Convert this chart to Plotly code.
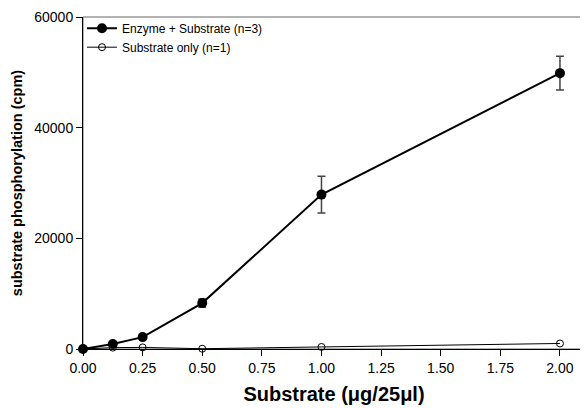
import plotly.graph_objects as go

x_vals = [0, 0.125, 0.25, 0.5, 1.0, 2.0]
enzyme_vals = [0, 900, 2150, 8300, 27900, 49850]
enzyme_err = [0, 150, 250, 750, 3300, 3050]
substrate_vals = [0, 250, 290, 50, 370, 1000]
x_ticks = [0, 0.25, 0.5, 0.75, 1.0, 1.25, 1.5, 1.75, 2.0]
x_tick_labels = ["0.00", "0.25", "0.50", "0.75", "1.00", "1.25", "1.50", "1.75", "2.00"]
y_ticks = [0, 20000, 40000, 60000]

font = "Liberation Sans, Arial, sans-serif"

fig = go.Figure()
fig.add_trace(go.Scatter(
    x=x_vals, y=substrate_vals, mode="lines+markers",
    name="Substrate only (n=1)",
    line=dict(color="black", width=1),
    marker=dict(symbol="circle-open", size=7, color="black", line=dict(width=1)),
    cliponaxis=False,
))
fig.add_trace(go.Scatter(
    x=x_vals, y=enzyme_vals, mode="lines+markers",
    name="Enzyme + Substrate (n=3)",
    line=dict(color="black", width=2),
    marker=dict(symbol="circle", size=10, color="black"),
    error_y=dict(type="data", array=enzyme_err, visible=True, color="#444", thickness=1.5, width=4),
    cliponaxis=False,
))

fig.add_shape(type="rect", xref="paper", yref="paper", x0=0, x1=1, y0=0, y1=1,
              line=dict(color="#666", width=1), layer="below")

fig.update_layout(
    width=580, height=400,
    margin=dict(l=75, r=3, t=9, b=59, autoexpand=False),
    plot_bgcolor="white", paper_bgcolor="white",
    font=dict(family=font, color="black", size=14),
    showlegend=True,
    legend=dict(x=-0.002, y=1.01, xanchor="left", yanchor="top", traceorder="reversed",
                font=dict(size=12), bgcolor="rgba(0,0,0,0)", itemwidth=30,
                tracegroupgap=0),
    xaxis=dict(
        range=[0, 2.105], tickvals=x_ticks, ticktext=x_tick_labels,
        showgrid=False, zeroline=False, showline=True, linecolor="black", linewidth=1,
        ticks="outside", ticklen=6, tickcolor="black", tickfont=dict(size=14),
        title=dict(text="<b>Substrate (μg/25μl)</b>", font=dict(size=20), standoff=12),
    ),
    yaxis=dict(
        range=[0, 60000], tickvals=y_ticks, ticktext=[str(v) for v in y_ticks],
        showgrid=False, zeroline=False, showline=True, linecolor="black", linewidth=1,
        ticks="outside", ticklen=6, tickcolor="black", tickfont=dict(size=14),
        ticklabeloverflow="allow",
        title=dict(text="<b>substrate phosphorylation (cpm)</b>", font=dict(size=14.5), standoff=8),
    ),
)

fig.write_html("out.html")
